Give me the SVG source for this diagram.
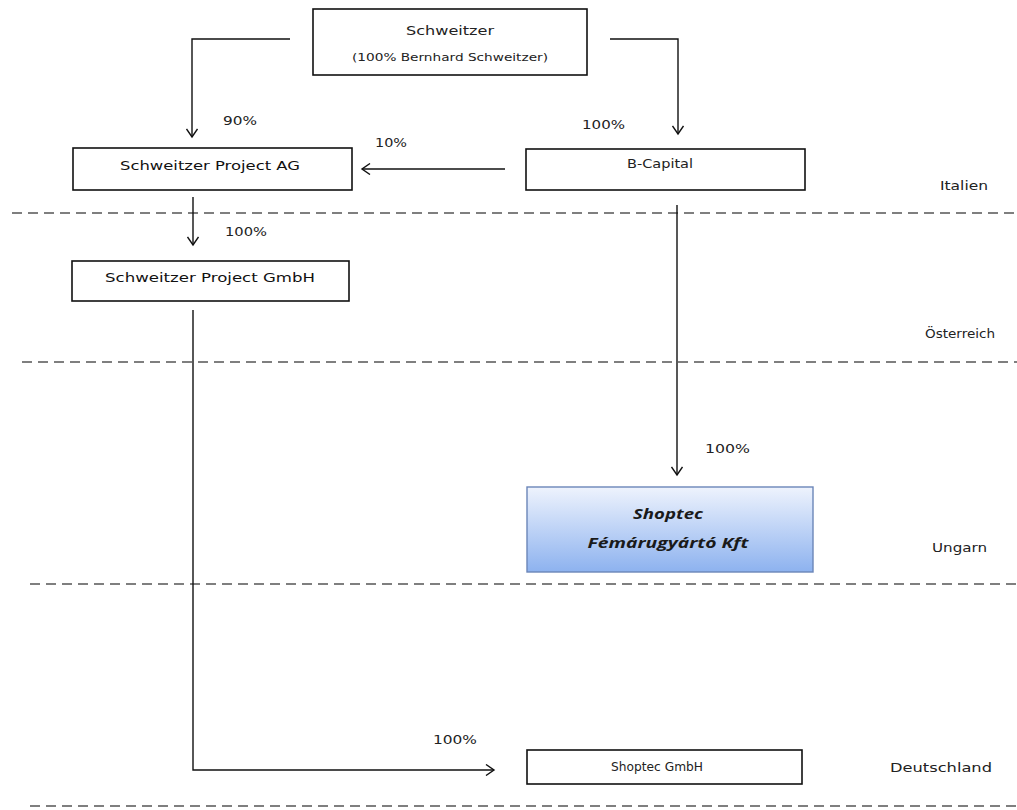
<svg xmlns="http://www.w3.org/2000/svg" width="1017" height="810" viewBox="0 0 1017 810">
<style>
.box{fill:#fff;stroke:#111;stroke-width:1.6}
.t{font-family:"DejaVu Sans","Liberation Sans",sans-serif;font-size:12px;fill:#222;text-anchor:middle;dominant-baseline:central}
.lbl{font-family:"DejaVu Sans","Liberation Sans",sans-serif;font-size:12px;fill:#222;dominant-baseline:central}
.kft{font-family:"Open Sans","DejaVu Sans",sans-serif;font-size:14px;font-weight:bold;font-style:italic;fill:#1a1a1a;text-anchor:middle;dominant-baseline:central}
.c{fill:none;stroke:#111;stroke-width:1.4}
.d{fill:none;stroke:#555;stroke-width:1.6;stroke-dasharray:10 6}
</style>
<defs>
<marker id="ah" markerWidth="12" markerHeight="12" refX="9" refY="6" orient="auto" markerUnits="userSpaceOnUse">
<path d="M1,0.5 L9,6 L1,11.5" fill="none" stroke="#111" stroke-width="1.4"/>
</marker>
<linearGradient id="g" x1="0" y1="0" x2="0" y2="1">
<stop offset="0" stop-color="#eef3fd"/>
<stop offset="1" stop-color="#8db2ef"/>
</linearGradient>
</defs>
<rect width="1017" height="810" fill="#fff"/>
<g id="borders">
<line class="d" x1="12" y1="213" x2="1017" y2="213"/>
<line class="d" x1="22" y1="362" x2="1017" y2="362"/>
<line class="d" x1="30" y1="584" x2="1017" y2="584"/>
<line class="d" x1="30" y1="806" x2="1017" y2="806"/>
</g>
<g id="countries">
<text class="lbl" x="940" y="186" textLength="48" lengthAdjust="spacingAndGlyphs">Italien</text>
<text class="lbl" x="925" y="334" textLength="70" lengthAdjust="spacingAndGlyphs">Österreich</text>
<text class="lbl" x="932" y="548" textLength="55" lengthAdjust="spacingAndGlyphs">Ungarn</text>
<text class="lbl" x="890" y="768" textLength="102" lengthAdjust="spacingAndGlyphs">Deutschland</text>
</g>
<g id="connectors">
<path class="c" d="M290,39 H192 V137" marker-end="url(#ah)"/>
<path class="c" d="M610,39 H678 V134" marker-end="url(#ah)"/>
<path class="c" d="M505,169 H362" marker-end="url(#ah)"/>
<path class="c" d="M193,197 V245" marker-end="url(#ah)"/>
<path class="c" d="M677,205 V475" marker-end="url(#ah)"/>
<path class="c" d="M193,310 V770 H494" marker-end="url(#ah)"/>
</g>
<g id="percentages">
<text class="lbl" x="223" y="121" textLength="34" lengthAdjust="spacingAndGlyphs">90%</text>
<text class="lbl" x="375" y="143" textLength="32" lengthAdjust="spacingAndGlyphs">10%</text>
<text class="lbl" x="582" y="125" textLength="43" lengthAdjust="spacingAndGlyphs">100%</text>
<text class="lbl" x="225" y="232" textLength="42" lengthAdjust="spacingAndGlyphs">100%</text>
<text class="lbl" x="705" y="449" textLength="45" lengthAdjust="spacingAndGlyphs">100%</text>
<text class="lbl" x="433" y="740" textLength="44" lengthAdjust="spacingAndGlyphs">100%</text>
</g>
<g id="schweitzer">
<rect class="box" x="313" y="9" width="274" height="66"/>
<text class="t" x="450" y="31" textLength="88" lengthAdjust="spacingAndGlyphs">Schweitzer</text>
<text class="t" x="450" y="57" textLength="196" lengthAdjust="spacingAndGlyphs" style="font-size:11px">(100% Bernhard Schweitzer)</text>
</g>
<g id="project-ag">
<rect class="box" x="73" y="148" width="279" height="42"/>
<text class="t" x="210" y="165" textLength="180" lengthAdjust="spacingAndGlyphs" style="font-size:13px;fill:#111">Schweitzer Project AG</text>
</g>
<g id="b-capital">
<rect class="box" x="526" y="149" width="279" height="41"/>
<text class="t" x="660" y="164" textLength="66" lengthAdjust="spacingAndGlyphs">B-Capital</text>
</g>
<g id="project-gmbh">
<rect class="box" x="72" y="261" width="277" height="40"/>
<text class="t" x="210" y="277" textLength="210" lengthAdjust="spacingAndGlyphs" style="font-size:13px;fill:#111">Schweitzer Project GmbH</text>
</g>
<g id="shoptec-kft">
<rect x="527" y="487" width="286" height="85" fill="url(#g)" stroke="#6b86b8" stroke-width="1.4"/>
<text class="kft" x="668" y="513" textLength="70" lengthAdjust="spacingAndGlyphs">Shoptec</text>
<text class="kft" x="668" y="542" textLength="161" lengthAdjust="spacingAndGlyphs">Fémárugyártó Kft</text>
</g>
<g id="shoptec-gmbh">
<rect class="box" x="527" y="750" width="275" height="34"/>
<text class="t" x="657" y="766" textLength="92" lengthAdjust="spacingAndGlyphs" style="font-size:12.5px">Shoptec GmbH</text>
</g>
</svg>
